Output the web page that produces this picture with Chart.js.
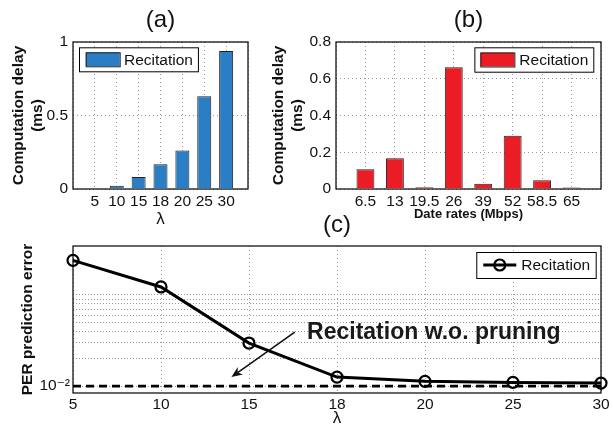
<!DOCTYPE html>
<html>
<head>
<meta charset="utf-8">
<script src="https://cdn.jsdelivr.net/npm/chart.js@4.4.0/dist/chart.umd.min.js"></script>
<style>
  html, body { margin: 0; padding: 0; background: #fff; }
  #wrap { position: relative; width: 613px; height: 428px; overflow: hidden; background: #fff; }
  canvas { position: absolute; }
</style>
</head>
<body>
<div id="wrap">
  <canvas id="chartA" width="258" height="232" style="left:0;top:0"></canvas>
  <canvas id="chartB" width="358" height="232" style="left:255px;top:0"></canvas>
  <canvas id="chartC" width="613" height="228" style="left:0;top:200px"></canvas>
</div>
<script>
// values
const lambdaLabels = ['5', '10', '15', '18', '20', '25', '30'];
const delayByLambda = [0.004, 0.022, 0.081, 0.169, 0.262, 0.631, 0.938];

const rateLabels = ['6.5', '13', '19.5', '26', '39', '52', '58.5', '65'];
const delayByRate = [0.108, 0.168, 0.010, 0.662, 0.028, 0.290, 0.048, 0.008];

const perRecitation = [0.240, 0.1225, 0.0297, 0.01256, 0.01127, 0.01098, 0.0108];
const perNoPruning = [0.0100, 0.0100, 0.0100, 0.0100, 0.0100, 0.0100, 0.0100];
const perGridTicks = [0.01, 0.02, 0.03, 0.04, 0.05, 0.06, 0.07, 0.08, 0.09, 0.1];

const FONT = '"Liberation Sans", Arial, "DejaVu Sans", sans-serif';
const INK = '#111';

Chart.defaults.font.family = FONT;
Chart.defaults.color = INK;
Chart.defaults.animation = false;
Chart.defaults.events = [];

const tickFont = { size: 15.5 };
const gridDots = { color: '#9a9a9a', lineWidth: 1, drawTicks: false };
const borderDots = { display: false, dash: [1, 3] };
const plainNum = v => String(+v.toFixed(2));

// black box round the plot area, like matlab's "box on"
const framePlugin = {
  id: 'frame',
  beforeDatasetsDraw(chart) {
    const { ctx, chartArea: a } = chart;
    ctx.save();
    ctx.strokeStyle = '#000';
    ctx.lineWidth = 1.2;
    ctx.strokeRect(a.left, a.top, a.right - a.left, a.bottom - a.top);
    ctx.restore();
  }
};

// boxed legend inside the plot area
const boxLegend = {
  id: 'boxLegend',
  afterDraw(chart, args, opts) {
    const ds = chart.data.datasets[0];
    const { ctx, chartArea } = chart;
    ctx.save();
    ctx.font = '15.5px ' + FONT;
    const textW = ctx.measureText(ds.label).width;
    const w = opts.padL + opts.sampleW + opts.gap + textW + opts.padR;
    const h = opts.height;
    const x = opts.side === 'left' ? chartArea.left + opts.dx : chartArea.right - opts.dx - w;
    const y = chartArea.top + opts.dy;
    ctx.fillStyle = '#fff';
    ctx.fillRect(x, y, w, h);
    ctx.strokeStyle = '#000';
    ctx.lineWidth = 1;
    ctx.strokeRect(x + 0.5, y + 0.5, w, h);
    const cy = y + h / 2;
    const sx = x + opts.padL;
    if (opts.kind === 'bar') {
      ctx.fillStyle = ds.backgroundColor;
      ctx.fillRect(sx, cy - 7, opts.sampleW, 14);
      ctx.strokeStyle = ds.borderColor;
      ctx.strokeRect(sx + 0.5, cy - 6.5, opts.sampleW, 14);
    } else {
      ctx.strokeStyle = ds.borderColor;
      ctx.lineWidth = ds.borderWidth;
      ctx.beginPath();
      ctx.moveTo(sx, cy);
      ctx.lineTo(sx + opts.sampleW, cy);
      ctx.stroke();
      ctx.lineWidth = ds.pointBorderWidth;
      ctx.beginPath();
      ctx.arc(sx + opts.sampleW / 2, cy, ds.pointRadius, 0, Math.PI * 2);
      ctx.stroke();
    }
    ctx.fillStyle = INK;
    ctx.textBaseline = 'middle';
    ctx.fillText(ds.label, sx + opts.sampleW + opts.gap, cy + 1);
    ctx.restore();
  }
};

// text + arrow annotation for panel (c), placed in data coordinates
const noteText = 'Recitation w.o. pruning';
const noteAt = [2.66, 0.0331];
const arrowFrom = [2.52, 0.0392];
const arrowTo = [1.80, 0.01256];

const notePlugin = {
  id: 'note',
  afterDatasetsDraw(chart) {
    const { ctx, scales: { x, y } } = chart;
    const x0 = x.getPixelForValue(arrowFrom[0]), y0 = y.getPixelForValue(arrowFrom[1]);
    const x1 = x.getPixelForValue(arrowTo[0]), y1 = y.getPixelForValue(arrowTo[1]);
    const ang = Math.atan2(y1 - y0, x1 - x0);
    const len = 11, half = 4.5;
    ctx.save();
    ctx.strokeStyle = INK;
    ctx.fillStyle = INK;
    ctx.lineWidth = 1.6;
    ctx.beginPath();
    ctx.moveTo(x0, y0);
    ctx.lineTo(x1 - Math.cos(ang) * len * 0.7, y1 - Math.sin(ang) * len * 0.7);
    ctx.stroke();
    ctx.beginPath();
    ctx.moveTo(x1, y1);
    ctx.lineTo(x1 - Math.cos(ang) * len - Math.sin(ang) * half, y1 - Math.sin(ang) * len + Math.cos(ang) * half);
    ctx.lineTo(x1 - Math.cos(ang) * len * 0.7, y1 - Math.sin(ang) * len * 0.7);
    ctx.lineTo(x1 - Math.cos(ang) * len + Math.sin(ang) * half, y1 - Math.sin(ang) * len - Math.cos(ang) * half);
    ctx.closePath();
    ctx.fill();
    ctx.font = 'bold 23px ' + FONT;
    ctx.fillStyle = '#1a1a1a';
    ctx.textBaseline = 'alphabetic';
    ctx.fillText(noteText, x.getPixelForValue(noteAt[0]), y.getPixelForValue(noteAt[1]));
    ctx.restore();
  }
};

function panelTitle(text, top, bottom) {
  return {
    display: true, text: text, fullSize: false, color: INK,
    font: { size: 24, weight: 'normal' },
    padding: { top: top, bottom: bottom }
  };
}

// (a) delay vs lambda
new Chart(document.getElementById('chartA'), {
  type: 'bar',
  data: {
    datasets: [{
      label: 'Recitation',
      data: delayByLambda.map((v, i) => ({ x: i + 1, y: v })),
      backgroundColor: '#2b7dc4',
      borderColor: '#222',
      borderWidth: 1,
      categoryPercentage: 0.8,
      barPercentage: 0.8
    }]
  },
  options: {
    responsive: false,
    layout: { padding: { left: 0, right: 10, top: 0, bottom: 4 } },
    scales: {
      x: {
        type: 'linear', min: 0, max: 8, offset: false,
        ticks: {
          stepSize: 1, autoSkip: false, maxRotation: 0, padding: 3, font: tickFont, color: INK,
          callback: v => lambdaLabels[v - 1] || ''
        },
        grid: Object.assign({ offset: false }, gridDots),
        border: borderDots,
        title: { display: true, text: 'λ', font: { size: 17 }, padding: { top: 0, bottom: -2 }, color: INK },
        afterFit: s => { s.height = 39; }
      },
      y: {
        min: 0, max: 1,
        ticks: { stepSize: 0.5, padding: 5, font: tickFont, color: INK, callback: plainNum },
        grid: gridDots,
        border: borderDots,
        title: {
          display: true, text: ['Computation delay', '(ms)'], color: INK,
          font: { size: 15.5, weight: 'bold' }, padding: { top: 9.7, bottom: 0 }
        },
        afterFit: s => { s.width = 73; }
      }
    },
    plugins: {
      title: panelTitle('(a)', 5.6, 7.6),
      legend: { display: false },
      tooltip: { enabled: false },
      boxLegend: { side: 'left', dx: 6, dy: 5.3, height: 24, padL: 6.7, sampleW: 34, gap: 4.3, padR: 5, kind: 'bar' }
    }
  },
  plugins: [framePlugin, boxLegend]
});

// (b) delay vs data rate
new Chart(document.getElementById('chartB'), {
  type: 'bar',
  data: {
    datasets: [{
      label: 'Recitation',
      data: delayByRate.map((v, i) => ({ x: i + 1, y: v })),
      backgroundColor: '#ec1c24',
      borderColor: '#222',
      borderWidth: 1,
      categoryPercentage: 0.8,
      barPercentage: 0.76
    }]
  },
  options: {
    responsive: false,
    layout: { padding: { left: 0, right: 12, top: 0, bottom: 10 } },
    scales: {
      x: {
        type: 'linear', min: 0, max: 9, offset: false,
        ticks: {
          stepSize: 1, autoSkip: false, maxRotation: 0, minRotation: 0, padding: 3, font: tickFont, color: INK,
          callback: v => rateLabels[v - 1] || ''
        },
        grid: Object.assign({ offset: false }, gridDots),
        border: borderDots,
        title: { display: true, text: 'Date rates (Mbps)', font: { size: 13, weight: 'bold' }, padding: 0, color: INK },
        afterFit: s => { s.height = 33; }
      },
      y: {
        min: 0, max: 0.8,
        ticks: { stepSize: 0.2, padding: 5, font: tickFont, color: INK, callback: plainNum },
        grid: gridDots,
        border: borderDots,
        title: {
          display: true, text: ['Computation delay', '(ms)'], color: INK,
          font: { size: 15.5, weight: 'bold' }, padding: { top: 14.7, bottom: 0 }
        },
        afterFit: s => { s.width = 81; }
      }
    },
    plugins: {
      title: panelTitle('(b)', 5.6, 7.6),
      legend: { display: false },
      tooltip: { enabled: false },
      boxLegend: { side: 'right', dx: 7.7, dy: 5.3, height: 24.4, padL: 6, sampleW: 34, gap: 5, padR: 5, kind: 'bar' }
    }
  },
  plugins: [framePlugin, boxLegend]
});

// (c) PER prediction error, log scale
new Chart(document.getElementById('chartC'), {
  type: 'line',
  data: {
    labels: lambdaLabels,
    datasets: [{
      label: 'Recitation',
      data: perRecitation,
      borderColor: '#000',
      borderWidth: 3,
      pointRadius: 5.5,
      pointBorderWidth: 2.2,
      pointBorderColor: '#000',
      pointBackgroundColor: 'rgba(0,0,0,0)',
      tension: 0,
      clip: false
    }, {
      label: 'Recitation w.o. pruning',
      data: perNoPruning,
      borderColor: '#000',
      borderWidth: 2.6,
      borderDash: [8, 5],
      pointRadius: 0,
      tension: 0,
      clip: false
    }]
  },
  options: {
    responsive: false,
    layout: { padding: { left: 0, right: 12, top: 0, bottom: 1 } },
    scales: {
      x: {
        type: 'category', offset: false,
        ticks: { autoSkip: false, maxRotation: 0, padding: 2, font: tickFont, color: INK },
        grid: gridDots,
        border: borderDots,
        title: { display: true, text: 'λ', font: { size: 17 }, padding: { top: 0, bottom: -2 }, color: INK },
        afterFit: s => { s.height = 34; }
      },
      y: {
        type: 'logarithmic', min: 0.0084, max: 0.345,
        afterBuildTicks: s => { s.ticks = perGridTicks.map(v => ({ value: v })); },
        ticks: {
          autoSkip: false, padding: 3, font: tickFont, color: INK,
          callback: v => (Math.abs(v - 0.01) < 1e-9 ? '10\u207B\u00B2' : '')
        },
        grid: gridDots,
        border: { display: false, dash: [1, 2] },
        title: {
          display: true, text: 'PER prediction error', color: INK,
          font: { size: 15.5, weight: 'bold' }, padding: { top: 18.2, bottom: 0 }
        },
        afterFit: s => { s.width = 73; }
      }
    },
    plugins: {
      title: panelTitle('(c)', 10.6, 6.6),
      legend: { display: false },
      tooltip: { enabled: false },
      boxLegend: { side: 'right', dx: 5.3, dy: 6, height: 26, padL: 7, sampleW: 33, gap: 5, padR: 5.5, kind: 'line' }
    }
  },
  plugins: [framePlugin, notePlugin, boxLegend]
});
</script>
</body>
</html>
